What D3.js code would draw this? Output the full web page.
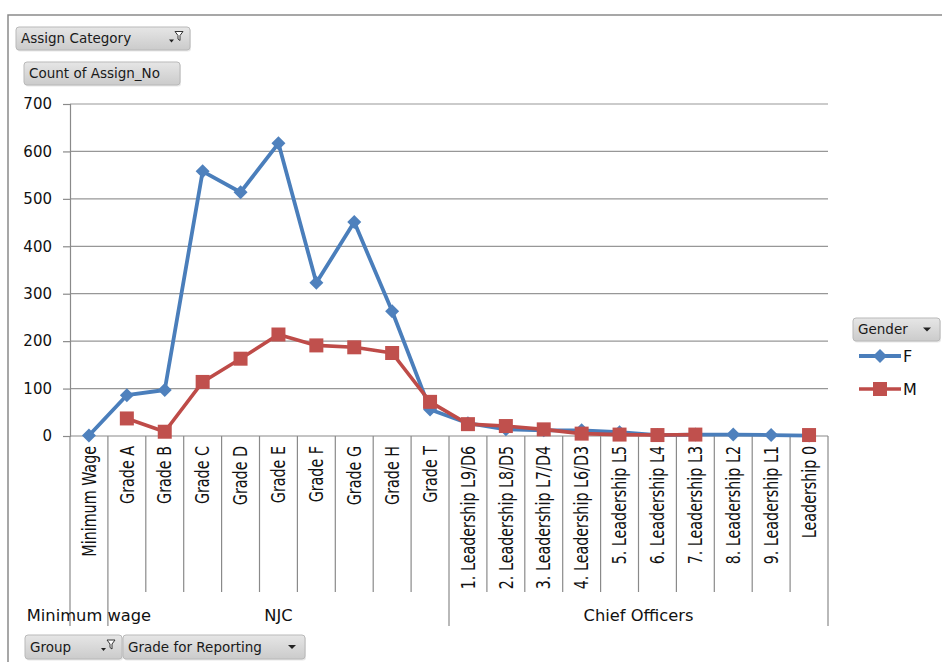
<!DOCTYPE html>
<html>
<head>
<meta charset="utf-8">
<script src="https://cdn.jsdelivr.net/npm/d3@7"></script>
<style>
  html, body { margin: 0; padding: 0; background: #fff; }
  svg { display: block; font-family: "DejaVu Sans", sans-serif; }
</style>
</head>
<body>
<svg id="chart" width="942" height="662"></svg>
<script>
// Pivot chart: Count of Assign_No by Grade for Reporting, split by Gender
const categories = [
  "Minimum Wage", "Grade A", "Grade B", "Grade C", "Grade D", "Grade E",
  "Grade F", "Grade G", "Grade H", "Grade T",
  "1. Leadership L9/D6", "2. Leadership L8/D5", "3. Leadership L7/D4",
  "4. Leadership L6/D3", "5. Leadership L5", "6. Leadership L4",
  "7. Leadership L3", "8. Leadership L2", "9. Leadership L1", "Leadership 0"
];
const categoryGroup = [
  "Minimum wage", "NJC", "NJC", "NJC", "NJC", "NJC", "NJC", "NJC", "NJC", "NJC",
  "Chief Officers", "Chief Officers", "Chief Officers", "Chief Officers",
  "Chief Officers", "Chief Officers", "Chief Officers", "Chief Officers",
  "Chief Officers", "Chief Officers"
];
const femaleCounts = [1, 86, 97, 558, 514, 617, 323, 451, 263, 56, 27, 14, 12, 12, 8, 2, 3, 3, 2, 1];
const maleCounts   = [null, 37, 9, 114, 163, 214, 191, 187, 175, 72, 25, 21, 14, 5, 3, 2, 3, null, null, 2];
const yTicks = [0, 100, 200, 300, 400, 500, 600, 700];
const seriesNames = ["F", "M"];

const svg = d3.select("#chart");

const plot = { left: 70, right: 828, top: 104, bottom: 436 };
const x = d3.scaleBand().domain(categories).range([plot.left, plot.right]).padding(0);
const y = d3.scaleLinear().domain([0, 700]).range([plot.bottom, plot.top]);

// Outer chart frame
svg.append("path")
  .attr("d", "M8,662 L8,15 L942,15")
  .attr("fill", "none").attr("stroke", "#8a8a8a").attr("stroke-width", 1.5);

// Button gradient
const defs = svg.append("defs");
const grad = defs.append("linearGradient").attr("id", "btn").attr("x1", 0).attr("y1", 0).attr("x2", 0).attr("y2", 1);
grad.append("stop").attr("offset", "0%").attr("stop-color", "#e6e6e6");
grad.append("stop").attr("offset", "100%").attr("stop-color", "#cbcbcb");

function fieldButton(bx, by, w, h, label, withFilter) {
  const g = svg.append("g").attr("transform", `translate(${bx},${by})`);
  g.append("rect").attr("x", 1).attr("y", 1.5).attr("width", w).attr("height", h).attr("rx", 3)
    .attr("fill", "#d8d8d8").attr("opacity", 0.6);
  g.append("rect").attr("width", w).attr("height", h).attr("rx", 3)
    .attr("fill", "url(#btn)").attr("stroke", "#b9b9b9").attr("stroke-width", 1);
  g.append("text").attr("x", 5).attr("y", h / 2).attr("dy", "0.36em")
    .attr("font-size", 13.5).attr("fill", "#1a1a1a").text(label);
  if (withFilter === "filter") {
    // small drop arrow with funnel
    g.append("path").attr("d", `M${w - 21},${h / 2 + 1} l5,0 l-2.5,3 z`).attr("fill", "#222");
    g.append("path").attr("d", `M${w - 15},${h / 2 - 7} l8,0 l-3,4 l0,5 l-2,-1.5 l0,-3.5 z`)
      .attr("fill", "#fff").attr("stroke", "#333").attr("stroke-width", 1);
  } else if (withFilter === "arrow") {
    g.append("path").attr("d", `M${w - 17},${h / 2 - 2} l8,0 l-4,4 z`).attr("fill", "#222");
  }
}

fieldButton(16, 27, 174, 23, "Assign Category", "filter");
fieldButton(24, 62, 156, 23, "Count of Assign_No", null);

// Horizontal gridlines
svg.append("g")
  .selectAll("line")
  .data(yTicks.filter(d => d > 0))
  .join("line")
  .attr("x1", plot.left).attr("x2", plot.right)
  .attr("y1", d => y(d)).attr("y2", d => y(d))
  .attr("stroke", "#979797").attr("stroke-width", 1.2);

// Value axis
const yAxis = svg.append("g")
  .attr("transform", `translate(${plot.left},0)`)
  .call(d3.axisLeft(y).tickValues(yTicks).tickSize(7).tickPadding(11).tickFormat(d3.format("d")));
yAxis.select(".domain").attr("stroke", "#8a8a8a").attr("stroke-width", 1.2);
yAxis.selectAll(".tick line").attr("stroke", "#8a8a8a").attr("stroke-width", 1.2);
yAxis.selectAll(".tick text").attr("font-size", 15).attr("fill", "#111")
  .attr("font-family", "DejaVu Sans, sans-serif");

// Category axis baseline
svg.append("line")
  .attr("x1", plot.left).attr("x2", plot.right)
  .attr("y1", plot.bottom).attr("y2", plot.bottom)
  .attr("stroke", "#8a8a8a").attr("stroke-width", 1.2);

// Category / group separators
const bw = x.bandwidth();
const boundaries = d3.range(categories.length + 1).map(i => {
  const isGroupEdge = i === 0 || i === categories.length || categoryGroup[i] !== categoryGroup[i - 1];
  return { xPos: plot.left + i * bw, groupEdge: isGroupEdge };
});
svg.append("g")
  .selectAll("line")
  .data(boundaries)
  .join("line")
  .attr("x1", d => d.xPos).attr("x2", d => d.xPos)
  .attr("y1", plot.bottom).attr("y2", d => d.groupEdge ? 626 : 592)
  .attr("stroke", "#8a8a8a").attr("stroke-width", 1.2);

// Category labels (rotated)
svg.append("g")
  .selectAll("text")
  .data(categories)
  .join("text")
  .attr("transform", d => `translate(${x(d) + bw / 2},446) scale(1.3,1) rotate(-90)`)
  .attr("text-anchor", "end")
  .attr("dy", "0.36em")
  .attr("font-size", 14.3)
  .attr("fill", "#111")
  .text(d => d);

// Group labels
const groupSpans = [];
categoryGroup.forEach((gname, i) => {
  const last = groupSpans[groupSpans.length - 1];
  if (last && last.name === gname) last.end = i;
  else groupSpans.push({ name: gname, start: i, end: i });
});
svg.append("g")
  .selectAll("text")
  .data(groupSpans)
  .join("text")
  .attr("x", d => (x(categories[d.start]) + x(categories[d.end]) + bw) / 2)
  .attr("y", 615)
  .attr("dy", "0.36em")
  .attr("text-anchor", "middle")
  .attr("font-size", 16.3)
  .attr("fill", "#111")
  .text(d => d.name);

// Series
const series = [
  { name: seriesNames[0], values: femaleCounts, line: "#4A7EBB", fill: "#4F81BD", symbol: d3.symbolDiamond2, size: 125, width: 3.8 },
  { name: seriesNames[1], values: maleCounts, line: "#BE4B48", fill: "#C0504D", symbol: d3.symbolSquare, size: 196, width: 3.6 }
];

const lineGen = d3.line()
  .defined(d => d.v !== null)
  .x(d => x(d.c) + bw / 2)
  .y(d => y(d.v));

series.forEach(s => {
  const pts = categories.map((c, i) => ({ c, v: s.values[i] }));
  const g = svg.append("g");
  g.append("path")
    .attr("d", lineGen(pts))
    .attr("fill", "none")
    .attr("stroke", s.line)
    .attr("stroke-width", s.width)
    .attr("stroke-linejoin", "round");
  g.selectAll("path.marker")
    .data(pts.filter(p => p.v !== null))
    .join("path")
    .attr("class", "marker")
    .attr("transform", p => `translate(${x(p.c) + bw / 2},${y(p.v)})`)
    .attr("d", d3.symbol().type(s.symbol).size(s.size))
    .attr("fill", s.fill);
});

// Legend
fieldButton(853, 318, 87, 23, "Gender", "arrow");
const legend = svg.append("g");
series.forEach((s, i) => {
  const ly = 356 + i * 33;
  legend.append("line").attr("x1", 859).attr("x2", 901).attr("y1", ly).attr("y2", ly)
    .attr("stroke", s.line).attr("stroke-width", s.width);
  legend.append("path")
    .attr("transform", `translate(880,${ly})`)
    .attr("d", d3.symbol().type(s.symbol).size(s.size))
    .attr("fill", s.fill);
  legend.append("text").attr("x", 903).attr("y", ly).attr("dy", "0.36em")
    .attr("font-size", 16).attr("fill", "#111").text(s.name);
});

// Row field buttons
fieldButton(25, 635, 97, 24, "Group", "filter");
fieldButton(123, 635, 182, 24, "Grade for Reporting", "arrow");
</script>
</body>
</html>
